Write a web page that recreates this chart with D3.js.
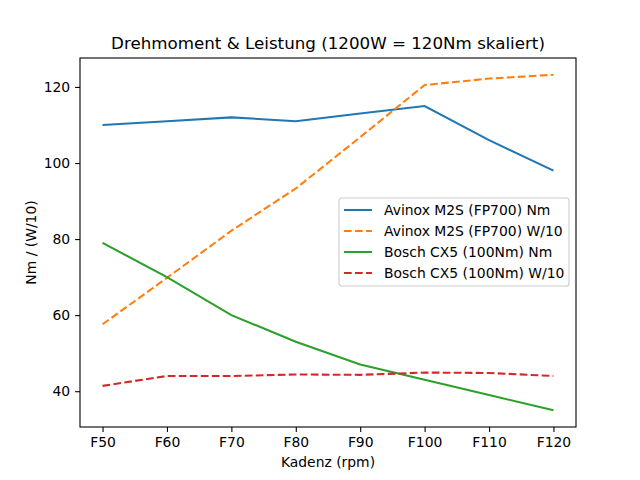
<!DOCTYPE html>
<meta charset="utf-8" />
<script src="https://d3js.org/d3.v7.min.js"></script>
<style>
  body { margin: 0; background: white; }
  text { font-family: "DejaVu Sans", sans-serif; }
</style>
<body>
<svg id="chart" width="640" height="480"></svg>
<script>
  // data
  const cadence = ["F50", "F60", "F70", "F80", "F90", "F100", "F110", "F120"];
  const avinoxNm = [110, 111, 112, 111, 113, 115, 106, 98];
  const avinoxW = [57.6, 69.8, 82.2, 93.3, 106.8, 120.5, 122.2, 123.2];
  const boschNm = [79, 70, 60, 53, 47, 43, 39, 35];
  const boschW = [41.4, 44, 44, 44.4, 44.3, 44.9, 44.8, 44];
  const seriesNames = ["Avinox M2S (FP700) Nm", "Avinox M2S (FP700) W/10",
                       "Bosch CX5 (100Nm) Nm", "Bosch CX5 (100Nm) W/10"];
  const yTicks = [40, 60, 80, 100, 120];

  const series = [
    { name: seriesNames[0], values: avinoxNm, color: "#1f77b4", dash: null },
    { name: seriesNames[1], values: avinoxW, color: "#ff7f0e", dash: "7.7,3.3" },
    { name: seriesNames[2], values: boschNm, color: "#2ca02c", dash: null },
    { name: seriesNames[3], values: boschW, color: "#d62728", dash: "7.7,3.3" }
  ];

  const svg = d3.select("#chart");
  const plotL = 80, plotR = 576, plotT = 58, plotB = 427;

  // matplotlib-like 5% margins on both axes
  const inset = (plotR - plotL) * 0.05 / 1.1;
  const x = d3.scalePoint().domain(cadence).range([plotL + inset, plotR - inset]);
  const allVals = series.flatMap(s => s.values);
  const lo = d3.min(allVals), hi = d3.max(allVals), pad = (hi - lo) * 0.05;
  const y = d3.scaleLinear().domain([lo - pad, hi + pad]).range([plotB, plotT]);

  const line = d3.line().x((d, i) => x(cadence[i])).y(d => y(d));

  series.forEach(s => {
    svg.append("path")
      .datum(s.values)
      .attr("d", line)
      .attr("fill", "none")
      .attr("stroke", s.color)
      .attr("stroke-width", 2.08)
      .attr("stroke-dasharray", s.dash);
  });

  // axes
  const xAxis = d3.axisBottom(x).tickSize(4.9).tickPadding(4.9);
  svg.append("g").attr("transform", `translate(0,${plotB})`).call(xAxis)
    .call(g => g.select(".domain").remove())
    .selectAll("text").attr("font-size", 13.9).attr("font-family", "DejaVu Sans").attr("fill", "black");
  const yAxis = d3.axisLeft(y).tickValues(yTicks).tickSize(4.9).tickPadding(4.9);
  svg.append("g").attr("transform", `translate(${plotL},0)`).call(yAxis)
    .call(g => g.select(".domain").remove())
    .selectAll("text").attr("font-size", 13.9).attr("font-family", "DejaVu Sans").attr("fill", "black");
  svg.selectAll(".tick line").attr("stroke", "black").attr("stroke-width", 1.1);

  svg.append("rect")
    .attr("x", plotL).attr("y", plotT)
    .attr("width", plotR - plotL).attr("height", plotB - plotT)
    .attr("fill", "none").attr("stroke", "black").attr("stroke-width", 1.1);

  // labels
  svg.append("text").attr("x", (plotL + plotR) / 2).attr("y", 49)
    .attr("text-anchor", "middle").attr("font-size", 16.7)
    .text("Drehmoment & Leistung (1200W = 120Nm skaliert)");
  svg.append("text").attr("x", (plotL + plotR) / 2).attr("y", 467)
    .attr("text-anchor", "middle").attr("font-size", 13.9)
    .text("Kadenz (rpm)");
  svg.append("text")
    .attr("transform", `translate(36,${(plotT + plotB) / 2}) rotate(-90)`)
    .attr("text-anchor", "middle").attr("font-size", 13.9)
    .text("Nm / (W/10)");

  // legend
  const legend = svg.append("g").attr("transform", "translate(339,198)");
  legend.append("rect")
    .attr("width", 230).attr("height", 88).attr("rx", 2.8)
    .attr("fill", "white").attr("fill-opacity", 0.8)
    .attr("stroke", "#cccccc").attr("stroke-width", 1.1);
  series.forEach((s, i) => {
    const ly = 12 + i * 21;
    legend.append("line")
      .attr("x1", 5).attr("x2", 33).attr("y1", ly).attr("y2", ly)
      .attr("stroke", s.color).attr("stroke-width", 2.08)
      .attr("stroke-dasharray", s.dash);
    legend.append("text")
      .attr("x", 45).attr("y", ly + 5)
      .attr("font-size", 13.9)
      .text(s.name);
  });
</script>
</body>
